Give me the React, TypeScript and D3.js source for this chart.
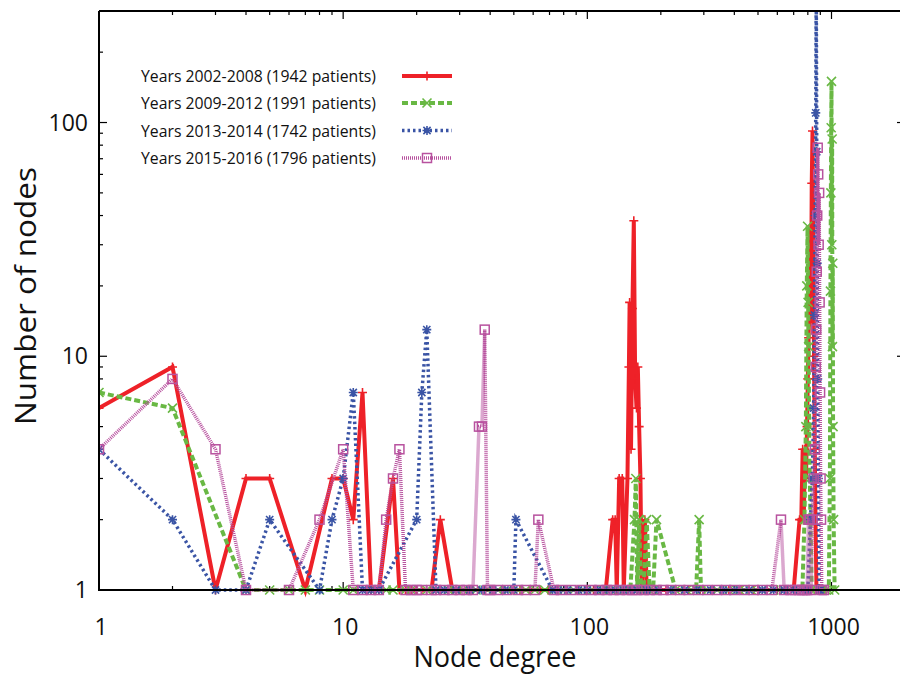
import React from "react";
import * as d3 from "d3";

const W = 900;
const H = 674;

const xDomain: [number, number] = [1, 2000];
const yDomain: [number, number] = [1, 300];
const xTickValues = [1, 10, 100, 1000];
const yTickValues = [1, 10, 100];
const xTickLabels = ["1", "10", "100", "1000"];
const yTickLabels = ["1", "10", "100"];
const minorSteps = [2, 3, 4, 5, 6, 7, 8, 9];

const xTitle = "Node degree";
const yTitle = "Number of nodes";

const seriesNames = [
  "Years 2002-2008 (1942 patients)",
  "Years 2009-2012 (1991 patients)",
  "Years 2013-2014 (1742 patients)",
  "Years 2015-2016 (1796 patients)",
];

// [node degree, number of nodes]
const years2002_2008: [number, number][] = [
  [1, 6], [2, 9], [3, 1], [4, 3], [5, 3], [7, 1], [9, 3], [10, 3], [11, 2], [12, 7], [13, 1], [14, 1],
  [16, 3], [17, 1], [18, 1], [19, 1], [20, 1], [21, 1], [23, 1], [25, 2], [28, 1], [30, 1], [32, 1],
  [34, 1], [38, 1], [41, 1], [45, 1], [49, 1], [53, 1], [58, 1], [64, 1], [69, 1], [75, 1], [82, 1],
  [90, 1], [98, 1], [106, 1], [113, 1], [119, 1], [127, 2], [130, 2], [132, 1], [135, 3], [139, 3],
  [141, 1], [146, 3], [148, 9], [149, 17], [151, 4], [153, 16], [155, 38], [157, 8], [159, 6], [161, 9],
  [163, 5], [165, 3], [167, 1], [172, 2], [175, 1], [190, 1], [210, 1], [230, 1], [260, 1], [290, 1],
  [330, 1], [380, 1], [430, 1], [480, 1], [540, 1], [600, 1], [650, 1], [700, 1], [740, 2], [752, 2],
  [762, 4], [770, 2], [778, 4], [786, 3], [794, 5], [800, 8], [806, 12], [812, 20], [818, 35], [824, 14],
  [830, 55], [836, 92], [842, 30], [848, 10], [854, 4], [860, 2], [868, 1], [900, 1], [940, 1],
];

const years2009_2012: [number, number][] = [
  [1, 7], [2, 6], [4, 1], [5, 1], [6, 1], [7, 1], [8, 1], [10, 1], [11, 1], [13, 1], [15, 1], [16, 1],
  [18, 1], [19, 1], [22, 1], [24, 1], [27, 1], [29, 1], [31, 1], [35, 1], [39, 1], [43, 1], [47, 1],
  [52, 1], [56, 1], [61, 1], [67, 1], [73, 1], [80, 1], [88, 1], [96, 1], [105, 1], [115, 1], [125, 1],
  [135, 1], [142, 1], [150, 1], [156, 2], [158, 3], [160, 1], [163, 2], [166, 1], [170, 1], [175, 2],
  [180, 1], [186, 1], [192, 2], [230, 1], [255, 1], [279, 1], [287, 2], [292, 1], [310, 1], [340, 1],
  [380, 1], [420, 1], [470, 1], [520, 1], [580, 1], [640, 1], [700, 1], [760, 1], [775, 2], [785, 5],
  [792, 20], [798, 36], [802, 17], [806, 11], [810, 5], [815, 3], [820, 2], [830, 1], [850, 1], [880, 1],
  [920, 1], [950, 1], [975, 1], [985, 3], [990, 19], [994, 50], [997, 95], [1000, 150], [1003, 30],
  [1006, 85], [1009, 11], [1012, 25], [1015, 5], [1020, 2], [1030, 1],
];

const years2013_2014: [number, number][] = [
  [1, 4], [2, 2], [3, 1], [4, 1], [5, 2], [8, 1], [9, 2], [10, 3], [11, 7], [12, 1], [13, 1], [14, 1],
  [20, 2], [21, 7], [22, 13], [24, 1], [26, 1], [29, 1], [33, 1], [37, 1], [41, 1], [46, 1], [50, 1],
  [51, 2], [72, 1], [76, 1], [83, 1], [92, 1], [100, 1], [110, 1], [120, 1], [130, 1], [140, 1],
  [150, 1], [160, 1], [175, 1], [195, 1], [220, 1], [250, 1], [280, 1], [320, 1], [360, 1], [410, 1],
  [460, 1], [520, 1], [580, 1], [640, 1], [700, 1], [760, 1], [800, 1], [820, 2], [835, 3], [845, 6],
  [852, 15], [858, 40], [862, 110], [866, 400], [870, 75], [874, 25], [878, 8], [884, 3], [890, 1],
  [900, 1],
];

const years2015_2016: [number, number][] = [
  [1, 4], [2, 8], [3, 4], [4, 1], [6, 1], [8, 2], [10, 4], [11, 1], [12, 1], [13, 1], [14, 1], [15, 2],
  [16, 3], [17, 4], [18, 1], [19, 1], [20, 1], [21, 1], [23, 1], [24, 1], [26, 1], [28, 1], [30, 1],
  [32, 1], [34, 1], [36, 5], [37, 5], [38, 13], [39, 1], [40, 1], [43, 1], [47, 1], [52, 1], [56, 1],
  [61, 1], [63, 2], [73, 1], [78, 1], [86, 1], [95, 1], [104, 1], [112, 1], [120, 1], [128, 1],
  [136, 1], [145, 1], [153, 1], [160, 1], [170, 1], [180, 1], [192, 1], [205, 1], [220, 1], [240, 1],
  [260, 1], [285, 1], [310, 1], [340, 1], [370, 1], [400, 1], [440, 1], [480, 1], [520, 1], [570, 1],
  [621, 2], [640, 1], [680, 1], [710, 1], [740, 1], [760, 1], [780, 1], [795, 1], [805, 2], [815, 2],
  [825, 1], [835, 2], [845, 3], [855, 4], [862, 9], [866, 13], [870, 23], [874, 40], [878, 78],
  [882, 60], [886, 30], [890, 50], [894, 17], [898, 7], [902, 3], [906, 2], [912, 1], [930, 1],
];

type MarkerKind = "plus" | "cross" | "star" | "square";

const styles = [
  { data: years2002_2008, color: "#ee2128", width: 4, dash: "none", marker: "plus" as MarkerKind },
  { data: years2009_2012, color: "#69b844", width: 4, dash: "6,3", marker: "cross" as MarkerKind },
  { data: years2013_2014, color: "#3a54a5", width: 3.5, dash: "2.5,3", marker: "star" as MarkerKind },
  { data: years2015_2016, color: "#b8529f", width: 3.5, dash: "1,1", marker: "square" as MarkerKind },
];

function Marker({ kind, cx, cy, color }: { kind: MarkerKind; cx: number; cy: number; color: string }) {
  const s = 4.5;
  let d = "";
  if (kind === "plus") d = `M${-s},0H${s}M0,${-s}V${s}`;
  else if (kind === "cross") d = `M${-s},${-s}L${s},${s}M${-s},${s}L${s},${-s}`;
  else if (kind === "star")
    d = `M${-s},0H${s}M0,${-s}V${s}M${-s * 0.8},${-s * 0.8}L${s * 0.8},${s * 0.8}M${-s * 0.8},${s * 0.8}L${s * 0.8},${-s * 0.8}`;
  if (kind === "square")
    return (
      <rect x={cx - 4.5} y={cy - 4.5} width={9} height={9} fill="none" stroke={color} strokeWidth={1.5} />
    );
  return <path d={d} transform={`translate(${cx},${cy})`} stroke={color} strokeWidth={1.6} fill="none" />;
}

export default function App() {
  const left = 99;
  const right = 905;
  const top = 11;
  const bottom = 590;
  const x = d3.scaleLog().domain(xDomain).range([left, right]);
  const y = d3.scaleLog().domain(yDomain).range([bottom, top]);

  const line = d3
    .line<[number, number]>()
    .x((d) => x(d[0]))
    .y((d) => y(d[1]));

  const xMinor: number[] = [];
  for (const dec of xTickValues) for (const m of minorSteps) if (dec * m <= xDomain[1]) xMinor.push(dec * m);
  const yMinor: number[] = [];
  for (const dec of yTickValues) for (const m of minorSteps) if (dec * m <= yDomain[1]) yMinor.push(dec * m);

  const font = "'Open Sans', 'Noto Sans', sans-serif";
  const legendY = [82, 109, 136.5, 164];

  return (
    <svg
      width={W}
      height={H}
      style={{ position: "absolute", left: 0, top: 0, background: "#fff" }}
      fontFamily={font}
    >
      <defs>
        <clipPath id="plotClip">
          <rect x={left} y={top} width={right - left} height={H - top} />
        </clipPath>
      </defs>
      <rect width={W} height={H} fill="#fff" />

      {/* ticks */}
      <g stroke="#000" strokeWidth={1.2}>
        {xTickValues.map((v) => (
          <g key={"xt" + v}>
            <line x1={x(v)} x2={x(v)} y1={bottom} y2={bottom - 8} />
            <line x1={x(v)} x2={x(v)} y1={top} y2={top + 8} />
          </g>
        ))}
        {xMinor.map((v) => (
          <g key={"xm" + v}>
            <line x1={x(v)} x2={x(v)} y1={bottom} y2={bottom - 4} />
            <line x1={x(v)} x2={x(v)} y1={top} y2={top + 4} />
          </g>
        ))}
        {yTickValues.map((v) => (
          <g key={"yt" + v}>
            <line x1={left} x2={left + 8} y1={y(v)} y2={y(v)} />
            <line x1={right} x2={right - 8} y1={y(v)} y2={y(v)} />
          </g>
        ))}
        {yMinor.map((v) => (
          <g key={"ym" + v}>
            <line x1={left} x2={left + 4} y1={y(v)} y2={y(v)} />
            <line x1={right} x2={right - 4} y1={y(v)} y2={y(v)} />
          </g>
        ))}
      </g>

      {/* series */}
      <g clipPath="url(#plotClip)">
        {styles.map((s, i) => (
          <g key={"s" + i}>
            <path
              d={line(s.data) || ""}
              fill="none"
              stroke={s.color}
              strokeWidth={s.width}
              strokeDasharray={s.dash}
              strokeLinejoin="miter"
            />
            {s.data.map((p, j) => (
              <Marker key={j} kind={s.marker} cx={x(p[0])} cy={y(p[1])} color={s.color} />
            ))}
          </g>
        ))}
      </g>

      {/* frame */}
      <path
        d={`M${left},${top}H${right}M${left},${top}V${bottom}H${right}`}
        stroke="#000"
        strokeWidth={2}
        fill="none"
      />

      {/* tick labels */}
      {xTickValues.map((v, i) => (
        <text key={"xl" + v} x={x(v) + 2} y={635} fontSize={23} textAnchor="middle" fill="#111">
          {xTickLabels[i]}
        </text>
      ))}
      {yTickValues.map((v, i) => (
        <text key={"yl" + v} x={88} y={y(v) + 8} fontSize={23} textAnchor="end" fill="#111">
          {yTickLabels[i]}
        </text>
      ))}

      {/* axis titles */}
      <text x={495} y={667} fontSize={29} textAnchor="middle" fill="#111" textLength={163} lengthAdjust="spacingAndGlyphs">
        {xTitle}
      </text>
      <text
        transform="translate(36,296) rotate(-90)"
        fontSize={29}
        textAnchor="middle"
        fill="#111"
        textLength={258}
        lengthAdjust="spacingAndGlyphs"
      >
        {yTitle}
      </text>

      {/* legend */}
      {styles.map((s, i) => (
        <g key={"lg" + i}>
          <text x={141} y={legendY[i]} fontSize={17} fill="#111" textLength={235} lengthAdjust="spacingAndGlyphs">
            {seriesNames[i]}
          </text>
          <line
            x1={402}
            x2={452}
            y1={legendY[i] - 6}
            y2={legendY[i] - 6}
            stroke={s.color}
            strokeWidth={s.width}
            strokeDasharray={s.dash}
          />
          <Marker kind={s.marker} cx={427} cy={legendY[i] - 6} color={s.color} />
        </g>
      ))}
    </svg>
  );
}
